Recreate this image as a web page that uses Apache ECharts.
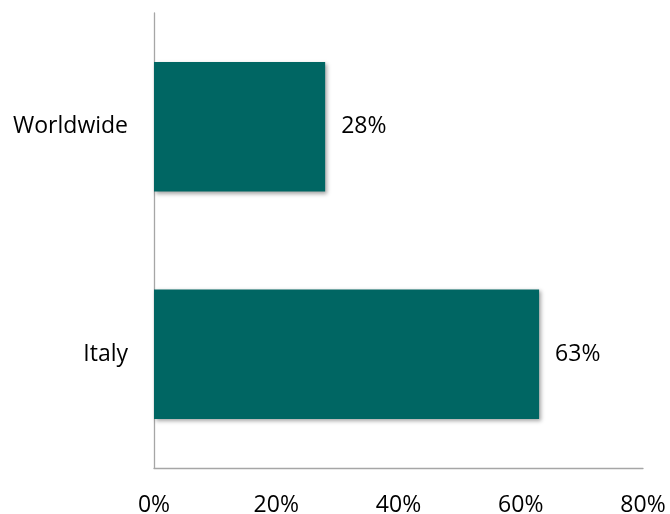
<!DOCTYPE html>
<html>
<head>
<meta charset="utf-8">
<script src="https://cdn.jsdelivr.net/npm/echarts@6/dist/echarts.min.js"></script>
<style>html,body{margin:0;padding:0;background:#fff}#c{width:670px;height:514px}</style>
</head>
<body>
<div id="c"></div>
<script>
const categories = ['Italy', 'Worldwide'];
const values = [0.63, 0.28];
const xTicks = [0, 0.2, 0.4, 0.6, 0.8];

const chart = echarts.init(document.getElementById('c'), null, {renderer: 'canvas'});
const font = '"Open Sans", sans-serif';
chart.setOption({
  animation: false,
  backgroundColor: '#ffffff',
  grid: {left: 154, right: 27, top: 13, bottom: 46, containLabel: false, outerBoundsMode: 'none'},
  xAxis: {
    type: 'value', min: xTicks[0], max: xTicks[xTicks.length - 1], interval: 0.2,
    axisLine: {show: true, lineStyle: {color: '#a6a6a6', width: 1.3}},
    axisTick: {show: false},
    splitLine: {show: false},
    axisLabel: {color: '#000', fontFamily: font, fontSize: 23, margin: 26,
      formatter: v => Math.round(v * 100) + '%'}
  },
  yAxis: {
    type: 'category', data: categories,
    axisLine: {show: true, lineStyle: {color: '#a6a6a6', width: 1.3}},
    axisTick: {show: false},
    axisLabel: {color: '#000', fontFamily: font, fontSize: 23, margin: 26}
  },
  series: [{
    type: 'bar', data: values, barCategoryGap: '43%',
    itemStyle: {color: '#006663', shadowColor: 'rgba(0,0,0,0.35)', shadowBlur: 4, shadowOffsetX: 2, shadowOffsetY: 2},
    label: {show: true, position: 'right', distance: 16, color: '#000', fontFamily: font, fontSize: 23,
      formatter: p => Math.round(p.value * 100) + '%'}
  }]
});
</script>
</body>
</html>
